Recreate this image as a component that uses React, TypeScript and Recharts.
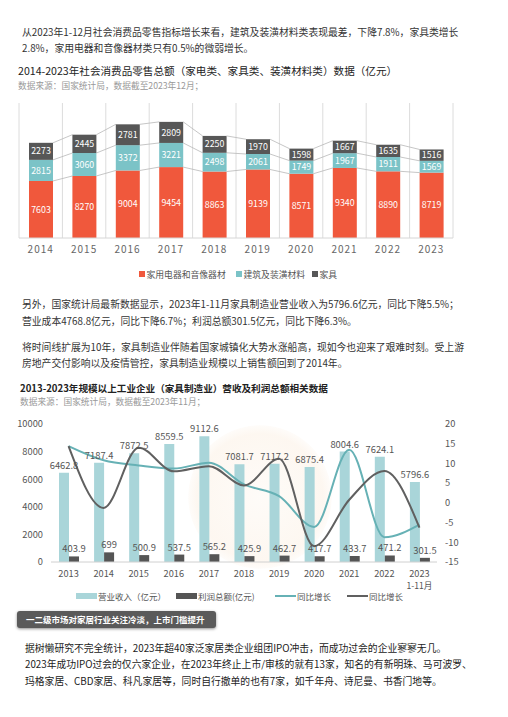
import React from 'react';
import {
  BarChart,
  Bar,
  ComposedChart,
  Line,
  XAxis,
  YAxis,
  CartesianGrid,
  LabelList,
} from 'recharts';

const FONT = '"Noto Sans CJK SC", "Noto Sans", sans-serif';

// 社会消费品零售总额（亿元），2014-2023
const RETAIL_YEARS = ['2014', '2015', '2016', '2017', '2018', '2019', '2020', '2021', '2022', '2023'];
const APPLIANCE_SALES = [7603, 8270, 9004, 9454, 8863, 9139, 8571, 9340, 8890, 8719];
const BUILDING_SALES = [2815, 3060, 3372, 3221, 2498, 2061, 1749, 1967, 1911, 1569];
const FURNITURE_SALES = [2273, 2445, 2781, 2809, 2250, 1970, 1598, 1667, 1635, 1516];

// 家具制造业营收 / 利润（亿元）及同比（%），2013-2023年1-11月
const MFG_YEARS = ['2013', '2014', '2015', '2016', '2017', '2018', '2019', '2020', '2021', '2022', '2023'];
const LAST_YEAR_NOTE = '1-11月';
const REVENUE = [6462.8, 7187.4, 7872.5, 8559.5, 9112.6, 7081.7, 7117.2, 6875.4, 8004.6, 7624.1, 5796.6];
const PROFIT = [403.9, 699, 500.9, 537.5, 565.2, 425.9, 462.7, 417.7, 433.7, 471.2, 301.5];
const REVENUE_YOY = [14.4, 10.8, 9.5, 8.7, 10.2, 4.7, 1.7, -6.1, 13.5, -8.7, -5.5];
const PROFIT_YOY = [14.4, -1.3, 14.0, 8.0, 9.3, 4.4, 11.2, -11.0, 0.8, 8.1, -6.3];

const RETAIL_SERIES = [
  { key: 'appliance', name: '家用电器和音像器材', color: '#F0583C' },
  { key: 'building', name: '建筑及装潢材料', color: '#7BC3C7' },
  { key: 'furniture', name: '家具', color: '#575757' },
];

const REVENUE_COLOR = '#A9D5D9';
const PROFIT_COLOR = '#555555';
const REVENUE_YOY_COLOR = '#66B1B5';
const PROFIT_YOY_COLOR = '#606060';

const retailRows = RETAIL_YEARS.map((year, i) => ({
  year,
  appliance: APPLIANCE_SALES[i],
  building: BUILDING_SALES[i],
  furniture: FURNITURE_SALES[i],
}));

const mfgRows = MFG_YEARS.map((year, i) => ({
  year,
  revenue: REVENUE[i],
  profit: PROFIT[i],
  revenueYoy: REVENUE_YOY[i],
  profitYoy: PROFIT_YOY[i],
}));

// chart 1 layout
const C1_W = 508;
const C1_H = 175;
const C1_MARGIN = { top: 8, right: 55, bottom: 12, left: 19 };
const RETAIL_BAND = (C1_W - C1_MARGIN.left - C1_MARGIN.right) / RETAIL_YEARS.length;

// chart 2 layout
const C2_W = 508;
const C2_H = 180;
const C2_MARGIN = { top: 14, right: 31, bottom: 0, left: 1 };

function stackTop(row: any, level: number) {
  let sum = 0;
  for (let k = 0; k <= level; k++) sum += row[RETAIL_SERIES[k].key];
  return sum;
}

// Stacked segment plus the thin series line joining its top to the next year's segment
function makeSegmentShape(level: number) {
  return (props: any) => {
    const { x, y, width, height, index, fill } = props;
    const row = retailRows[index];
    const own = row[RETAIL_SERIES[level].key];
    const pxPerUnit = height / own;
    const zeroY = y + stackTop(row, level) * pxPerUnit;
    const next = retailRows[index + 1];
    return (
      <g>
        <rect x={x} y={y} width={width} height={height} fill={fill} />
        {next && (
          <line
            x1={x + width}
            y1={y}
            x2={x + RETAIL_BAND}
            y2={zeroY - stackTop(next, level) * pxPerUnit}
            stroke="#b8b8b8"
            strokeWidth={0.8}
          />
        )}
      </g>
    );
  };
}

function YearTick(props: any) {
  const { x, y, payload, index } = props;
  const last = index === MFG_YEARS.length - 1;
  return (
    <g transform={`translate(${x},${y})`}>
      <text textAnchor="middle" fill="#555" fontSize={9.2} dy="0.71em">
        {payload.value}
      </text>
      {last && (
        <text textAnchor="middle" fill="#555" fontSize={8.6} dy="0.71em" y={13}>
          {LAST_YEAR_NOTE}
        </text>
      )}
    </g>
  );
}

function TextLine({
  top,
  left,
  size = 9.8,
  color = '#333',
  weight = 400,
  children,
}: {
  top: number;
  left: number;
  size?: number;
  color?: string;
  weight?: number;
  children: React.ReactNode;
}) {
  return (
    <div
      style={{
        position: 'absolute',
        top: top - 8,
        left,
        height: 16,
        lineHeight: '16px',
        fontSize: size,
        color,
        fontWeight: weight,
        whiteSpace: 'nowrap',
      }}
    >
      {children}
    </div>
  );
}

function LegendItem({
  left,
  top,
  color,
  label,
  kind,
  size,
}: {
  left: number;
  top: number;
  color: string;
  label: string;
  kind: 'square' | 'rect' | 'line';
  size: number;
}) {
  const mark =
    kind === 'square'
      ? { width: 6, height: 6 }
      : kind === 'rect'
      ? { width: 21, height: 6 }
      : { width: 21, height: 2 };
  return (
    <div
      style={{
        position: 'absolute',
        left,
        top: top - 8,
        height: 16,
        display: 'flex',
        alignItems: 'center',
        fontSize: size,
        color: '#555',
        whiteSpace: 'nowrap',
      }}
    >
      <span style={{ display: 'inline-block', background: color, marginRight: kind === 'square' ? 1.5 : 1, ...mark }} />
      {label}
    </div>
  );
}

export default function App() {
  return (
    <div
      style={{
        position: 'absolute',
        left: 0,
        top: 0,
        width: 508,
        height: 717,
        background: '#fff',
        fontFamily: FONT,
        overflow: 'hidden',
      }}
    >
      <TextLine top={31.7} left={22}>
        从2023年1-12月社会消费品零售指标增长来看，建筑及装潢材料类表现最差，下降7.8%，家具类增长
      </TextLine>
      <TextLine top={48.3} left={22}>
        2.8%，家用电器和音像器材类只有0.5%的微弱增长。
      </TextLine>
      <TextLine top={70.7} left={18} size={10.6} color="#222">
        2014-2023年社会消费品零售总额（家电类、家具类、装潢材料类）数据（亿元）
      </TextLine>
      <TextLine top={85.5} left={18} size={8.7} color="#999">
        数据来源：国家统计局，数据截至2023年12月；
      </TextLine>

      <div style={{ position: 'absolute', left: 0, top: 95 }}>
        <BarChart
          width={C1_W}
          height={C1_H}
          data={retailRows}
          margin={C1_MARGIN}
          barSize={24}
        >
          <CartesianGrid
            horizontal={false}
            stroke="#dcdcdc"
            verticalCoordinatesGenerator={({ offset }: any) =>
              RETAIL_YEARS.concat('').map((_, i) => offset.left + (i * offset.width) / RETAIL_YEARS.length)
            }
          />
          <XAxis
            dataKey="year"
            axisLine={{ stroke: '#d6d6d6' }}
            tickLine={false}
            tick={{ fontSize: 10, fill: '#666', letterSpacing: 1 }}
            height={20}
          />
          <YAxis hide domain={[0, 18000]} />
          {RETAIL_SERIES.map((s, level) => (
            <Bar
              key={s.key}
              dataKey={s.key}
              name={s.name}
              stackId="retail"
              fill={s.color}
              shape={makeSegmentShape(level)}
              isAnimationActive={false}
            >
              <LabelList dataKey={s.key} position="center" fill="#fff" fontSize={8.8} />
            </Bar>
          ))}
        </BarChart>
      </div>

      <LegendItem left={139} top={274.3} color={RETAIL_SERIES[0].color} label={RETAIL_SERIES[0].name} kind="square" size={8.8} />
      <LegendItem left={236} top={274.3} color={RETAIL_SERIES[1].color} label={RETAIL_SERIES[1].name} kind="square" size={8.8} />
      <LegendItem left={312} top={274.3} color={RETAIL_SERIES[2].color} label={RETAIL_SERIES[2].name} kind="square" size={8.8} />

      <TextLine top={304} left={22}>
        另外，国家统计局最新数据显示，2023年1-11月家具制造业营业收入为5796.6亿元，同比下降5.5%；
      </TextLine>
      <TextLine top={320.7} left={22}>
        营业成本4768.8亿元，同比下降6.7%；利润总额301.5亿元，同比下降6.3%。
      </TextLine>
      <TextLine top={346.7} left={22}>
        将时间线扩展为10年，家具制造业伴随着国家城镇化大势水涨船高，现如今也迎来了艰难时刻。受上游
      </TextLine>
      <TextLine top={363.3} left={22}>
        房地产交付影响以及疫情管控，家具制造业规模以上销售额回到了2014年。
      </TextLine>

      <TextLine top={387.7} left={20} size={9.6} color="#222" weight={700}>
        2013-2023年规模以上工业企业（家具制造业）营收及利润总额相关数据
      </TextLine>
      <TextLine top={401.7} left={20} size={8.7} color="#999">
        数据来源：国家统计局，数据截至2023年11月；
      </TextLine>

      {/* faint round emblem behind the chart */}
      <div
        style={{
          position: 'absolute',
          left: 188,
          top: 425,
          width: 144,
          height: 144,
          borderRadius: '50%',
          background:
            'radial-gradient(circle, rgba(253,246,238,0.4) 0%, rgba(252,242,231,0.6) 62%, rgba(252,242,231,0.25) 70%, rgba(255,255,255,0) 71%)',
        }}
      />

      <div style={{ position: 'absolute', left: 0, top: 410 }}>
        <ComposedChart
          width={C2_W}
          height={C2_H}
          data={mfgRows}
          margin={C2_MARGIN}
          barSize={10}
          barGap={0}
        >
          <XAxis
            dataKey="year"
            axisLine={{ stroke: '#d0d0d0' }}
            tickLine={false}
            tick={<YearTick />}
            height={28}
            interval={0}
          />
          <YAxis
            yAxisId="left"
            width={50}
            domain={[0, 10000]}
            ticks={[0, 2000, 4000, 6000, 8000, 10000]}
            axisLine={false}
            tickLine={false}
            tick={{ fontSize: 9.3, fill: '#555' }}
          />
          <YAxis
            yAxisId="right"
            orientation="right"
            width={40}
            domain={[-15, 20]}
            ticks={[-15, -10, -5, 0, 5, 10, 15, 20]}
            axisLine={false}
            tickLine={false}
            tick={{ fontSize: 9.3, fill: '#555' }}
          />
          <Bar yAxisId="left" dataKey="revenue" name="营业收入（亿元）" fill={REVENUE_COLOR} isAnimationActive={false}>
            <LabelList dataKey="revenue" position="top" offset={4} fill="#555" fontSize={9.4} />
          </Bar>
          <Bar yAxisId="left" dataKey="profit" name="利润总额(亿元)" fill={PROFIT_COLOR} isAnimationActive={false}>
            <LabelList dataKey="profit" position="top" offset={4} fill="#555" fontSize={9.4} />
          </Bar>
          <Line
            yAxisId="right"
            type="monotone"
            dataKey="revenueYoy"
            name="同比增长"
            stroke={REVENUE_YOY_COLOR}
            strokeWidth={2}
            dot={false}
            isAnimationActive={false}
          />
          <Line
            yAxisId="right"
            type="monotone"
            dataKey="profitYoy"
            name="同比增长"
            stroke={PROFIT_YOY_COLOR}
            strokeWidth={2}
            dot={false}
            isAnimationActive={false}
          />
        </ComposedChart>
      </div>

      <LegendItem left={76} top={595.7} color={REVENUE_COLOR} label="营业收入（亿元）" kind="rect" size={8.5} />
      <LegendItem left={176} top={595.7} color={PROFIT_COLOR} label="利润总额(亿元)" kind="rect" size={8.5} />
      <LegendItem left={275} top={595.7} color={REVENUE_YOY_COLOR} label="同比增长" kind="line" size={8.5} />
      <LegendItem left={347} top={595.7} color={PROFIT_YOY_COLOR} label="同比增长" kind="line" size={8.5} />

      <div
        style={{
          position: 'absolute',
          left: 17,
          top: 611,
          width: 199,
          height: 17,
          background: '#5a5a5a',
          borderRadius: 3,
          boxShadow: '0 1px 3px rgba(0,0,0,0.45)',
          color: '#fff',
          fontSize: 8.5,
          fontWeight: 700,
          lineHeight: '17px',
          paddingLeft: 9,
          boxSizing: 'border-box',
          whiteSpace: 'nowrap',
        }}
      >
        一二级市场对家居行业关注冷淡，上市门槛提升
      </div>

      <TextLine top={647.7} left={25} color="#222">
        据树懒研究不完全统计，2023年超40家泛家居类企业组团IPO冲击，而成功过会的企业寥寥无几。
      </TextLine>
      <TextLine top={664.3} left={25} color="#222">
        2023年成功IPO过会的仅六家企业，在2023年终止上市/审核的就有13家，知名的有新明珠、马可波罗、
      </TextLine>
      <TextLine top={681} left={25} color="#222">
        玛格家居、CBD家居、科凡家居等，同时自行撤单的也有7家，如千年舟、诗尼曼、书香门地等。
      </TextLine>
    </div>
  );
}
